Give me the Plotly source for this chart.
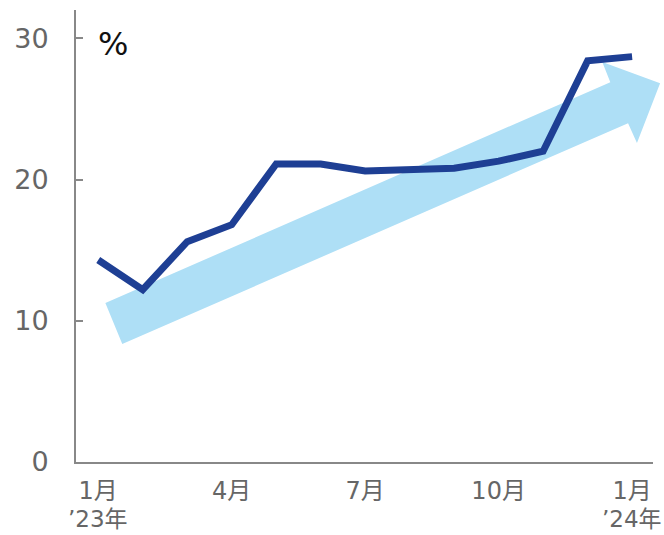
import plotly.graph_objects as go

# Monthly share (%), Jan 2023 - Jan 2024
months = ["1月", "2月", "3月", "4月", "5月", "6月", "7月",
          "8月", "9月", "10月", "11月", "12月", "1月"]
years = {0: "’23年", 12: "’24年"}
values = [14.3, 12.2, 15.6, 16.8, 21.1, 21.1, 20.6, 20.7, 20.8, 21.3, 22.0, 28.4, 28.7]
tick_idx = [0, 3, 6, 9, 12]
y_ticks = [0, 10, 20, 30]

x_range = [-0.5, 12.47]
y_range = [0, 32]

# Trend arrow outline in data units (month index, %)
arrow_x = [0.16, 0.54, 11.91, 12.11, 12.63, 11.33, 11.51]
arrow_y = [11.25, 8.35, 23.99, 22.58, 26.82, 28.31, 26.89]


def to_paper(x, y):
    px = (x - x_range[0]) / (x_range[1] - x_range[0])
    py = (y - y_range[0]) / (y_range[1] - y_range[0])
    return px, py


pts = [to_paper(x, y) for x, y in zip(arrow_x, arrow_y)]
path = "M " + " L ".join(f"{px:.4f},{py:.4f}" for px, py in pts) + " Z"

xs = list(range(len(values)))

fig = go.Figure()
fig.add_trace(go.Scatter(
    x=xs, y=values, mode="lines",
    line=dict(color="#1e3f94", width=7, shape="linear"),
    hoverinfo="skip",
))

fig.add_shape(type="path", path=path, xref="paper", yref="paper",
              fillcolor="#aedff6", line=dict(width=0), layer="below")

font_family = "DejaVu Sans, Noto Sans CJK JP, sans-serif"

annotations = [dict(
    text="%", xref="paper", yref="paper", x=0.034, y=0.972,
    xanchor="left", yanchor="top", showarrow=False,
    font=dict(size=32, color="#111111", family=font_family),
)]
for i, label in years.items():
    annotations.append(dict(
        text=label, xref="x", yref="paper", x=i, y=-0.126,
        xanchor="center", yanchor="middle", showarrow=False, borderpad=0,
        font=dict(size=23, color="#666666", family=font_family),
    ))

fig.update_layout(
    width=664, height=535,
    margin=dict(l=76, r=11, t=10, b=73),
    plot_bgcolor="white", paper_bgcolor="white",
    showlegend=False,
    font=dict(family=font_family, color="#666666"),
    xaxis=dict(
        range=x_range,
        tickmode="array", tickvals=tick_idx, ticktext=[months[i] for i in tick_idx],
        showgrid=False, zeroline=False,
        showline=True, linecolor="#888888", linewidth=2,
        ticks="", tickfont=dict(size=24, color="#666666"),
        ticklabelstandoff=6,
    ),
    yaxis=dict(
        range=y_range,
        tickmode="array", tickvals=y_ticks,
        showgrid=False, zeroline=False,
        showline=True, linecolor="#888888", linewidth=2,
        ticks="inside", ticklen=7, tickwidth=2, tickcolor="#888888",
        tickfont=dict(size=27, color="#666666"),
        ticklabelstandoff=20,
    ),
    annotations=annotations,
)

fig.write_html("out.html")
